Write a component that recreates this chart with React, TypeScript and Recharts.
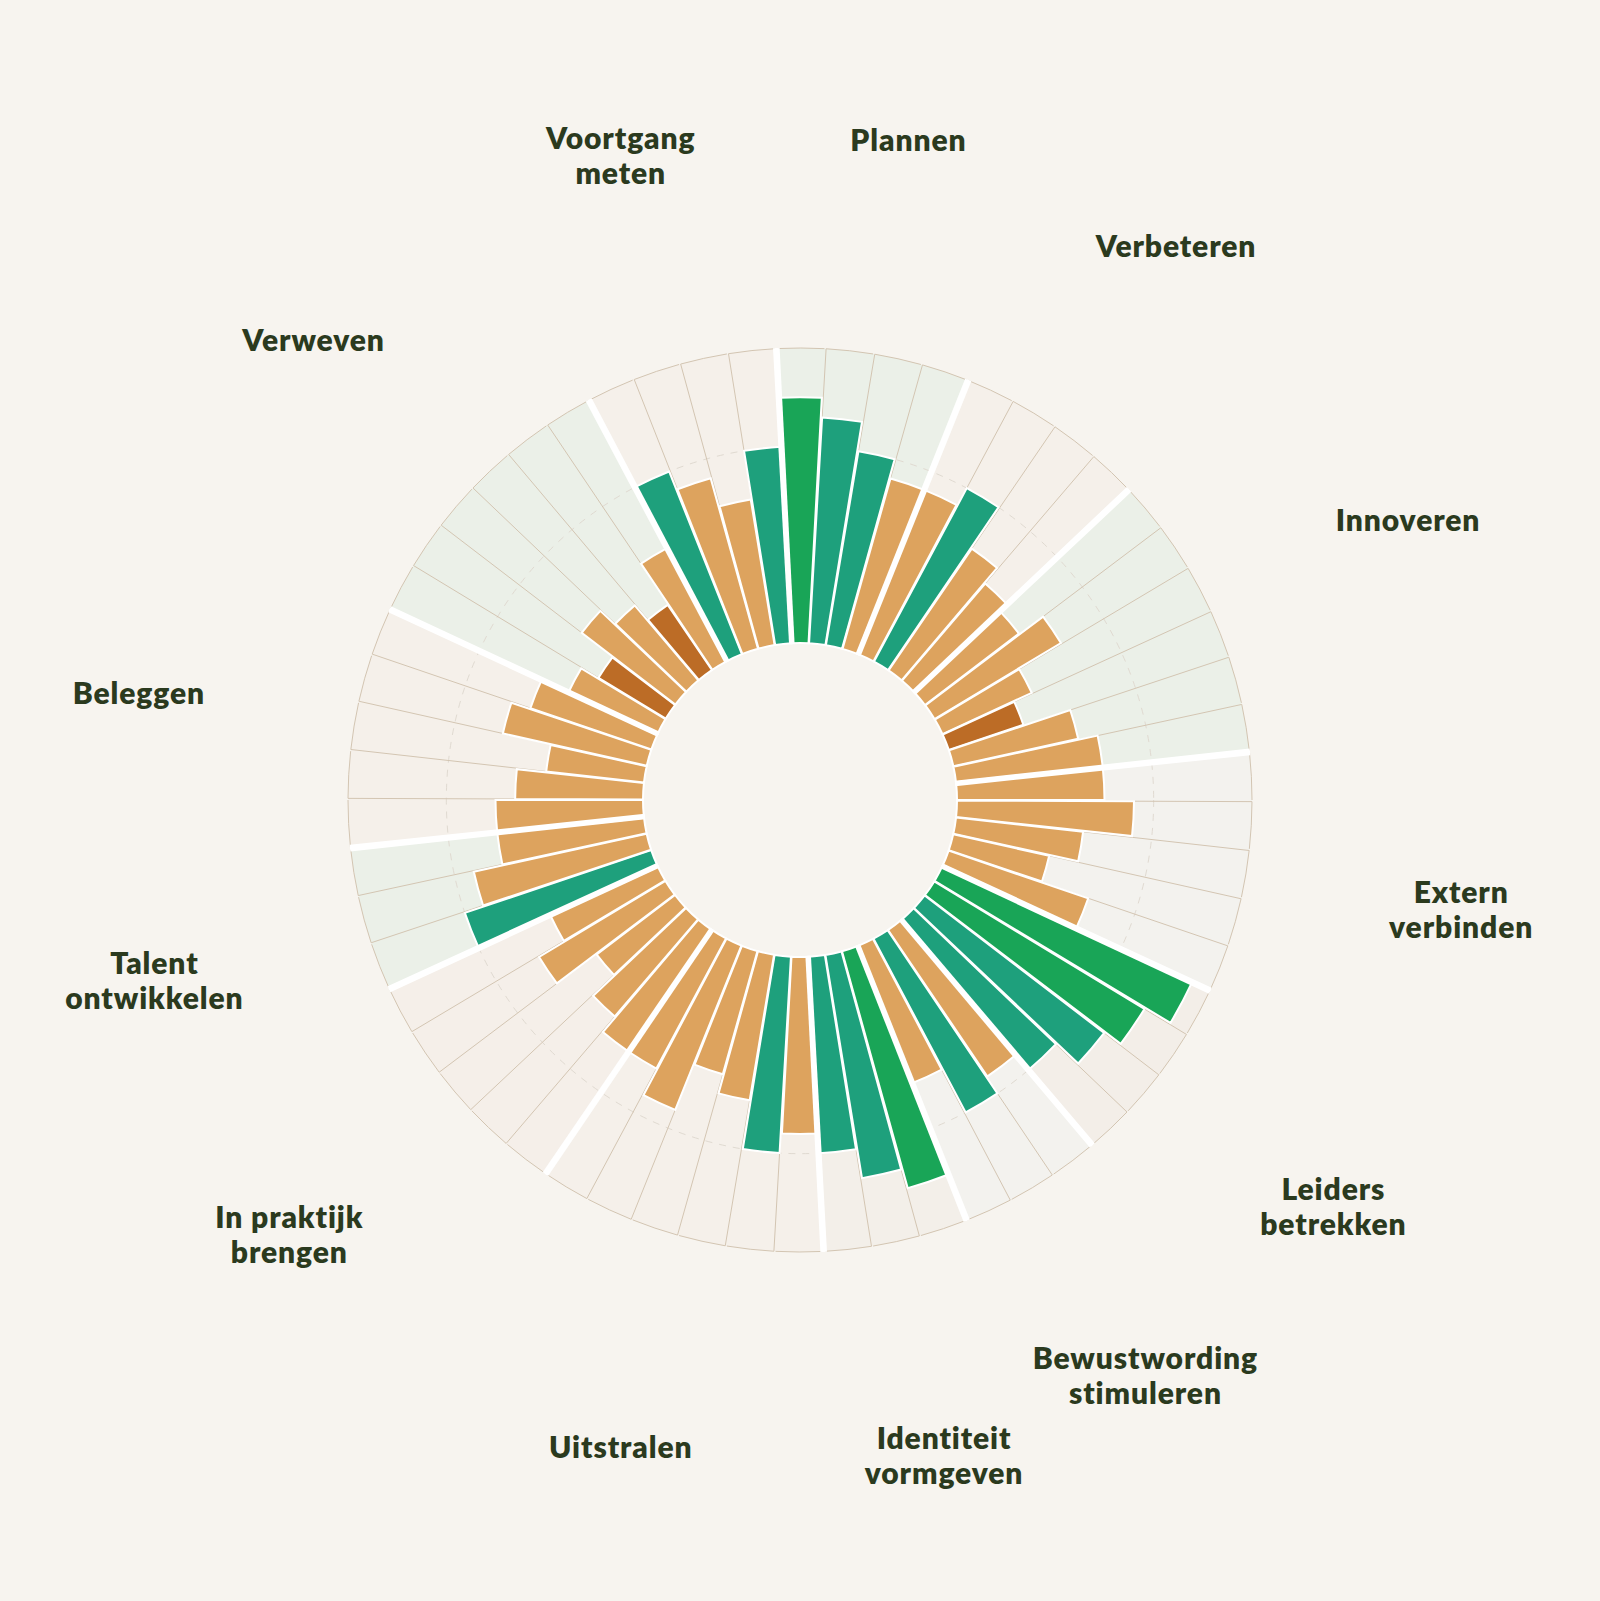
import React from 'react';
import {
  RadialBarChart,
  RadialBar,
  PolarAngleAxis,
  PolarRadiusAxis,
  PolarGrid,
  PieChart,
  Pie,
  Cell,
  Sector,
} from 'recharts';

// ---------- data ----------
const categories = [
  'Plannen',
  'Verbeteren',
  'Innoveren',
  'Extern verbinden',
  'Leiders betrekken',
  'Bewustwording stimuleren',
  'Identiteit vormgeven',
  'Uitstralen',
  'In praktijk brengen',
  'Talent ontwikkelen',
  'Beleggen',
  'Verweven',
  'Voortgang meten',
];

const categoryLabels = [
  'Plannen',
  'Verbeteren',
  'Innoveren',
  'Extern\nverbinden',
  'Leiders\nbetrekken',
  'Bewustwording\nstimuleren',
  'Identiteit\nvormgeven',
  'Uitstralen',
  'In praktijk\nbrengen',
  'Talent\nontwikkelen',
  'Beleggen',
  'Verweven',
  'Voortgang\nmeten',
];

// scores (% of target) per item, clockwise from the top
const plannen = [125, 115, 100, 90];
const verbeteren = [90, 100, 75, 65];
const innoveren = [60, 75, 50, 40, 65, 75];
const externVerbinden = [75, 90, 65, 50, 75];
const leidersBetrekken = [140, 125, 115, 100];
const bewustwordingStimuleren = [90, 100, 75];
const identiteitVormgeven = [125, 115, 100];
const uitstralen = [90, 100, 75, 65, 90, 75];
const inPraktijkBrengen = [75, 65, 50, 75, 60];
const talentOntwikkelen = [100, 90, 75];
const beleggen = [75, 65, 50, 75, 65];
const verweven = [50, 40, 60, 50, 40, 65];
const voortgangMeten = [100, 90, 75, 100];

const scoresPerCategory = [
  plannen,
  verbeteren,
  innoveren,
  externVerbinden,
  leidersBetrekken,
  bewustwordingStimuleren,
  identiteitVormgeven,
  uitstralen,
  inPraktijkBrengen,
  talentOntwikkelen,
  beleggen,
  verweven,
  voortgangMeten,
];

const scoreDomain: [number, number] = [0, 150];
const targetTicks = [100];

// ---------- styles ----------
const PAGE_BG = '#f7f4ef';
const TEXT = '#2b3a1e';
const GRID_LINE = '#d3c5b2';
const TINT: Record<string, string> = {
  Plannen: '#ebf0e8',
  Verbeteren: '#f5f0ea',
  Innoveren: '#ebf0e8',
  'Extern verbinden': '#f3f2ee',
  'Leiders betrekken': '#f3eee8',
  'Bewustwording stimuleren': '#f3f2ee',
  'Identiteit vormgeven': '#f3efe9',
  Uitstralen: '#f5f0ea',
  'In praktijk brengen': '#f5efe9',
  'Talent ontwikkelen': '#ebf0e8',
  Beleggen: '#f5f0ea',
  Verweven: '#ebf0e8',
  'Voortgang meten': '#f5f0ea',
};

const colorFor = (score: number) => {
  if (score >= 125) return '#19a557';
  if (score >= 100) return '#1ea07c';
  if (score >= 45) return '#dda35e';
  return '#bc6c26';
};

// ---------- table for the library ----------
const rows = categories.flatMap((cat, ci) =>
  scoresPerCategory[ci].map((score, i, arr) => ({
    key: `${cat}-${i + 1}`,
    category: cat,
    score,
    first: i === 0,
    last: i === arr.length - 1,
  }))
);

const categoryRows = categories.map((cat, ci) => ({
  category: cat,
  label: categoryLabels[ci],
  count: scoresPerCategory[ci].length,
}));

// ---------- geometry ----------
const W = 1600;
const H = 1600;
const CX = 800;
const CY = 800;
const INNER = 157;
const OUTER = 452;
const LABEL_R = 670;
const LINE_H = 35;
const SLOT = 360 / rows.length;
const START = 90 + SLOT / 2; // first item centred at 12 o'clock, running clockwise
const END = START - 360;
// the centric RadialBar places a clockwise band one slot further on; compensate
const BAR_START = START - SLOT;
const BAR_END = END - SLOT;
const RAD = Math.PI / 180;

const polar = (cx: number, cy: number, r: number, a: number) => [
  cx + r * Math.cos(-a * RAD),
  cy + r * Math.sin(-a * RAD),
];

// one radial divider + the outer arc per item (each edge drawn once)
const OutlineShape = (props: any) => {
  const { cx, cy, innerRadius, startAngle, endAngle } = props;
  const hi = Math.max(startAngle, endAngle);
  const lo = Math.min(startAngle, endAngle);
  const [x0, y0] = polar(cx, cy, innerRadius, hi);
  const [x1, y1] = polar(cx, cy, OUTER, hi);
  const [x2, y2] = polar(cx, cy, OUTER, lo);
  return (
    <path
      d={`M${x0},${y0}L${x1},${y1}A${OUTER},${OUTER} 0 0 1 ${x2},${y2}`}
      fill="none"
      stroke={GRID_LINE}
      strokeWidth={1}
    />
  );
};

const BarShape = (props: any) => {
  const { cx, cy, innerRadius, outerRadius, startAngle, endAngle } = props;
  const p = props.payload ?? props;
  const hi = Math.max(startAngle, endAngle);
  const lo = Math.min(startAngle, endAngle);
  const seps: number[] = [];
  if (p.first) seps.push(hi);
  if (p.last) seps.push(lo);
  return (
    <g>
      <Sector
        cx={cx}
        cy={cy}
        innerRadius={innerRadius}
        outerRadius={outerRadius}
        startAngle={startAngle}
        endAngle={endAngle}
        fill={colorFor(p.score)}
        stroke="#ffffff"
        strokeWidth={2}
      />
      {seps.map((a, i) => {
        const [x1, y1] = polar(cx, cy, innerRadius - 1, a);
        const [x2, y2] = polar(cx, cy, OUTER + 0.5, a);
        return <line key={i} x1={x1} y1={y1} x2={x2} y2={y2} stroke="#ffffff" strokeWidth={5} />;
      })}
    </g>
  );
};

const renderLabel = (p: any) => {
  const [x, y] = polar(p.cx, p.cy, LABEL_R, p.midAngle);
  const text = String(p.payload?.label ?? categoryRows[p.index]?.label ?? p.name);
  const lines = text.split('\n');
  return (
    <text
      x={x}
      y={y}
      textAnchor="middle"
      dominantBaseline="central"
      fontFamily="Lato, 'Open Sans', sans-serif"
      fontWeight={800}
      fontSize={30}
      letterSpacing={0.9}
      fill={TEXT}
    >
      {lines.map((l, i) => (
        <tspan key={i} x={x} y={y + (i - (lines.length - 1) / 2) * LINE_H}>
          {l}
        </tspan>
      ))}
    </text>
  );
};

const axes = (withGridTicks: boolean) => [
  <PolarAngleAxis key="a" type="category" dataKey="key" tick={false} axisLine={false} tickLine={false} />,
  <PolarRadiusAxis
    key="r"
    type="number"
    domain={scoreDomain}
    ticks={withGridTicks ? targetTicks : undefined}
    tick={false}
    axisLine={false}
    tickLine={false}
  />,
];

const layer: React.CSSProperties = { position: 'absolute', left: 0, top: 0 };

export default function App() {
  return (
    <div
      style={{
        position: 'absolute',
        left: 0,
        top: 0,
        width: 1600,
        height: 1601,
        background: PAGE_BG,
        overflow: 'hidden',
      }}
    >
      {/* category backgrounds and labels */}
      <div style={layer}>
        <PieChart width={W} height={H} margin={{ top: 0, right: 0, bottom: 0, left: 0 }}>
          <Pie
            data={categoryRows}
            dataKey="count"
            nameKey="category"
            cx={CX}
            cy={CY}
            innerRadius={INNER}
            outerRadius={OUTER}
            startAngle={START}
            endAngle={END}
            paddingAngle={0}
            stroke="none"
            isAnimationActive={false}
            label={renderLabel}
            labelLine={false}
          >
            {categoryRows.map((r) => (
              <Cell key={r.category} fill={TINT[r.category]} />
            ))}
          </Pie>
        </PieChart>
      </div>

      {/* target circle and item outlines */}
      <div style={layer}>
        <RadialBarChart
          width={W}
          height={H}
          data={rows}
          layout="centric"
          cx={CX}
          cy={CY}
          innerRadius={INNER}
          outerRadius={OUTER}
          startAngle={BAR_START}
          endAngle={BAR_END}
          barCategoryGap={0}
          barGap={0}
          margin={{ top: 0, right: 0, bottom: 0, left: 0 }}
        >
          {axes(true)}
          <PolarGrid gridType="circle" radialLines={false} stroke="#e0dad1" strokeDasharray="7 7" />
          <RadialBar dataKey="score" shape={OutlineShape} isAnimationActive={false} />
        </RadialBarChart>
      </div>

      {/* score bars */}
      <div style={layer}>
        <RadialBarChart
          width={W}
          height={H}
          data={rows}
          layout="centric"
          cx={CX}
          cy={CY}
          innerRadius={INNER}
          outerRadius={OUTER}
          startAngle={BAR_START}
          endAngle={BAR_END}
          barCategoryGap={0}
          barGap={0}
          margin={{ top: 0, right: 0, bottom: 0, left: 0 }}
        >
          {axes(false)}
          <RadialBar dataKey="score" shape={BarShape} isAnimationActive={false} />
        </RadialBarChart>
      </div>
    </div>
  );
}
